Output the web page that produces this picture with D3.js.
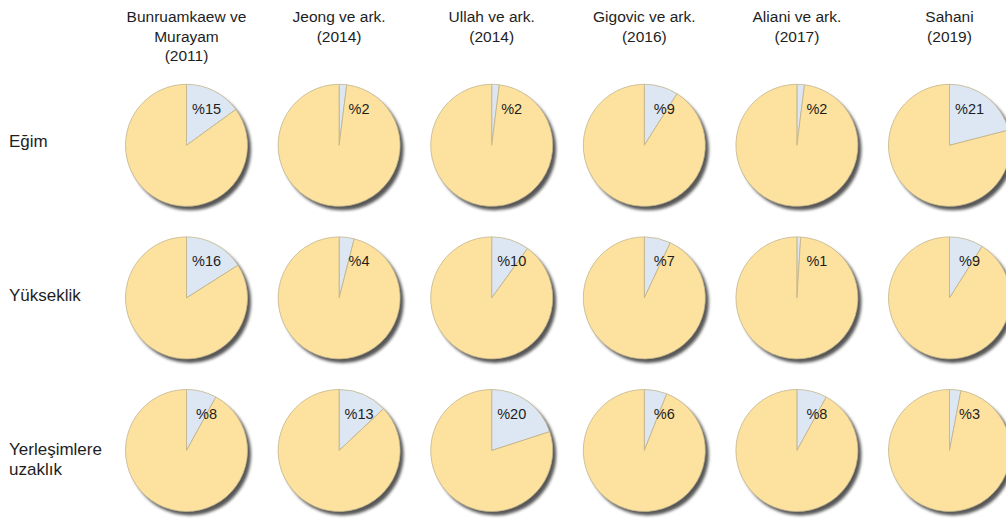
<!DOCTYPE html>
<html>
<head>
<meta charset="utf-8">
<script src="https://cdn.jsdelivr.net/npm/d3@7"></script>
<style>
  html, body { margin: 0; padding: 0; background: #fff; }
  svg { display: block; }
  text { font-family: "Liberation Sans", Arial, sans-serif; fill: #1e1e1e; }
</style>
</head>
<body>
<svg id="chart" width="1006" height="518"></svg>
<script>
// Study titles (columns), one array of lines each
const studies = [
  ["Bunruamkaew ve", "Murayam", "(2011)"],
  ["Jeong ve ark.", "(2014)"],
  ["Ullah ve ark.", "(2014)"],
  ["Gigovic ve ark.", "(2016)"],
  ["Aliani ve ark.", "(2017)"],
  ["Sahani", "(2019)"]
];
// Criteria (rows)
const criteria = [
  ["Eğim"],
  ["Yükseklik"],
  ["Yerleşimlere", "uzaklık"]
];
// Weight (%) of each criterion per study
const egim = [15, 2, 2, 9, 2, 21];
const yukseklik = [16, 4, 10, 7, 1, 9];
const uzaklik = [8, 13, 20, 6, 8, 3];
const series = [egim, yukseklik, uzaklik];

const svg = d3.select("#chart");
const R = 61;

const x = d3.scalePoint().domain(d3.range(studies.length)).range([186.5, 949.5]);
const y = d3.scalePoint().domain(d3.range(criteria.length)).range([145.3, 450.5]);
const labelY = [147, 301, 455];

const defs = svg.append("defs");
const blur = defs.append("filter").attr("id", "shadowBlur")
  .attr("x", "-20%").attr("y", "-20%").attr("width", "140%").attr("height", "140%");
blur.append("feGaussianBlur").attr("stdDeviation", 1.4);

const pie = d3.pie().sort(null).value(d => d);
const arc = d3.arc().innerRadius(0).outerRadius(R);
const color = ["#dde7f3", "#fde29f"];

// column titles
studies.forEach((lines, i) => {
  const t = svg.append("text")
    .attr("x", x(i)).attr("text-anchor", "middle")
    .style("font-size", "15.5px");
  lines.forEach((ln, k) => {
    t.append("tspan").attr("x", x(i)).attr("y", 22 + k * 19.5).text(ln);
  });
});

// row labels
criteria.forEach((lines, j) => {
  const t = svg.append("text").attr("x", 9).style("font-size", "17px");
  lines.forEach((ln, k) => {
    t.append("tspan").attr("x", 9)
      .attr("y", labelY[j] + k * 19.5).text(ln);
  });
});

// pies
series.forEach((vals, j) => {
  vals.forEach((v, i) => {
    const g = svg.append("g").attr("transform", `translate(${x(i)},${y(j)})`);
    g.append("circle")
      .attr("cx", 3.5).attr("cy", 4).attr("r", R)
      .attr("fill", "#454545").attr("opacity", 0.9)
      .attr("filter", "url(#shadowBlur)");
    g.selectAll("path").data(pie([v, 100 - v])).join("path")
      .attr("d", arc)
      .attr("fill", (d, k) => color[k])
      .attr("stroke", "#c2b58e").attr("stroke-width", 0.8)
      .attr("stroke-linejoin", "round");
    g.append("text")
      .attr("x", 20).attr("y", -37).attr("dy", "0.36em")
      .attr("text-anchor", "middle")
      .style("font-size", "14.5px")
      .text("%" + v);
  });
});
</script>
</body>
</html>
